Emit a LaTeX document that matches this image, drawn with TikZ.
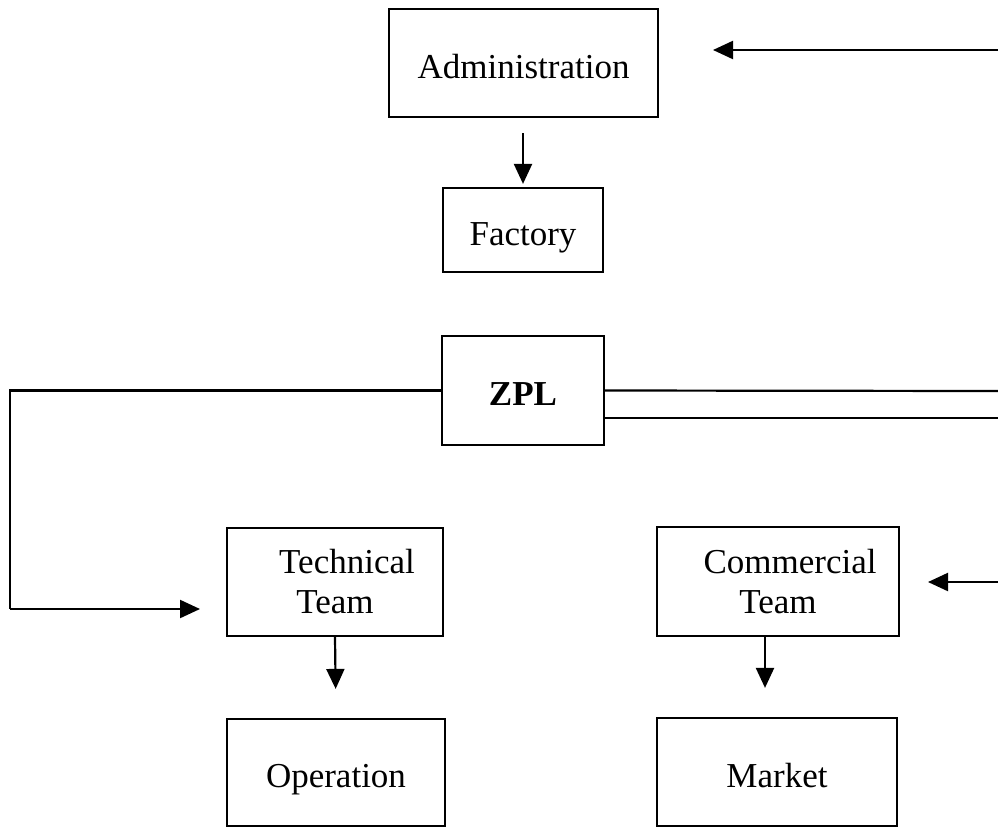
\documentclass[tikz,border=0pt]{standalone}
\usepackage{fontspec}
\setmainfont{Liberation Serif}
\usetikzlibrary{arrows.meta}
\tikzset{
  orgbox/.style={draw, line width=2.2pt, inner sep=0pt,
    align=center, font=\fontsize{35}{40}\selectfont},
  oneline/.style={text height=38pt, text depth=8pt},
  arr/.style={line width=2.2pt, -{Triangle[length=20pt,width=18pt]}},
  wire/.style={line width=2.2pt}
}
\begin{document}
\begin{tikzpicture}[x=1pt,y=-1pt]
 \useasboundingbox (0,0) rectangle (998,828);
 % boxes
 \node[orgbox, oneline, minimum width=269pt, minimum height=108pt]
   (admin) at (523.5,63) {Administration};
 \node[orgbox, oneline, minimum width=160pt, minimum height=84pt]
   (factory) at (523,230) {Factory};
 \node[orgbox, oneline, minimum width=162pt, minimum height=109pt]
   (zpl) at (523,390.5) {\textbf{ZPL}};
 \node[orgbox, minimum width=216pt, minimum height=108pt]
   (tech) at (335,582) {\hspace*{24pt}Technical\\Team};
 \node[orgbox, minimum width=242pt, minimum height=109pt]
   (comm) at (778,581.5) {\hspace*{24pt}Commercial\\Team};
 \node[orgbox, oneline, minimum width=218pt, minimum height=107pt]
   (oper) at (336,772.5) {Operation};
 \node[orgbox, oneline, minimum width=240pt, minimum height=108pt]
   (market) at (777,772) {Market};
 % free ends
 \coordinate (ra) at (998,50);
 \coordinate (ta) at (713,50);
 \coordinate (r1) at (998,391);
 \coordinate (r2) at (998,418);
 \coordinate (rc) at (998,582);
 \coordinate (tc) at (928,582);
 \coordinate (lc) at (10,609);
 \coordinate (tl) at (200,609);
 % connectors
 \draw[arr] (ra) -- (ta);
 \draw[arr, shorten <=15pt, shorten >=3pt]
   (admin.south -| factory.north) -- (factory.north);
 \draw[wire] (zpl.east) -- (r1);
 \draw[wire] (zpl.east |- r2) -- (r2);
 \draw[wire] (zpl.west) -| (lc);
 \draw[arr] (lc) -- (tl);
 \draw[arr] (rc) -- (tc);
 \draw[arr, shorten >=29pt] (tech.south) -- (oper.north);
 \draw[arr, shorten >=29pt] (comm.south -| 765,0) -- (market.north -| 765,0);
\end{tikzpicture}
\end{document}
